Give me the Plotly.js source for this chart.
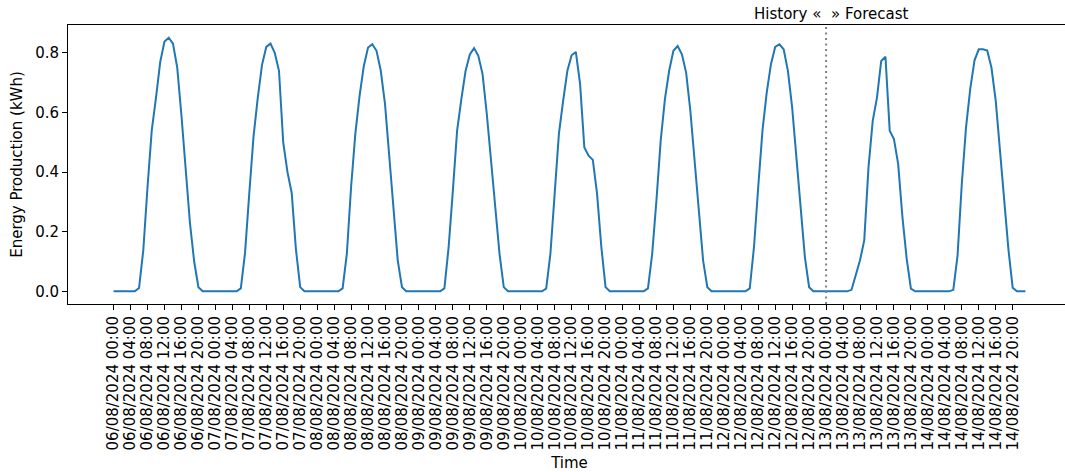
<!DOCTYPE html>
<html>
<head>
<meta charset="utf-8">
<script src="https://cdn.plot.ly/plotly-3.0.1.min.js"></script>
<style>
  html, body { margin: 0; padding: 0; background: #fff; overflow: hidden; }
  #chart { width: 1072px; height: 472px; }
</style>
</head>
<body>
<div id="chart"></div>
<script>
// Hourly energy production (kWh), one array per day, 00:00 .. 23:00
const day0806 = [0,0,0,0,0,0,0.011,0.137,0.35,0.54,0.65,0.77,0.838,0.851,0.831,0.751,0.59,0.40,0.23,0.10,0.014,0,0,0];
const day0807 = [0,0,0,0,0,0,0.01,0.13,0.33,0.52,0.65,0.76,0.82,0.831,0.80,0.74,0.50,0.40,0.33,0.14,0.014,0,0,0];
const day0808 = [0,0,0,0,0,0,0.01,0.126,0.35,0.528,0.656,0.756,0.818,0.829,0.807,0.74,0.628,0.46,0.282,0.104,0.014,0,0,0];
const day0809 = [0,0,0,0,0,0,0.01,0.148,0.338,0.539,0.645,0.74,0.795,0.816,0.79,0.729,0.595,0.44,0.28,0.126,0.014,0,0,0];
const day0810 = [0,0,0,0,0,0,0.009,0.126,0.327,0.528,0.639,0.74,0.792,0.803,0.695,0.483,0.455,0.441,0.327,0.15,0.014,0,0,0];
const day0811 = [0,0,0,0,0,0,0.01,0.126,0.305,0.505,0.645,0.74,0.807,0.823,0.795,0.734,0.605,0.44,0.26,0.104,0.014,0,0,0];
const day0812 = [0,0,0,0,0,0,0.01,0.148,0.35,0.539,0.667,0.762,0.82,0.829,0.812,0.74,0.617,0.44,0.28,0.115,0.014,0,0,0];
const day0813 = [0,0,0,0,0,0,0.005,0.055,0.104,0.171,0.416,0.572,0.65,0.773,0.787,0.539,0.511,0.427,0.25,0.11,0.009,0,0,0];
const day0814 = [0,0,0,0,0,0,0.005,0.12,0.36,0.55,0.68,0.775,0.812,0.812,0.808,0.75,0.64,0.47,0.30,0.14,0.012,0,0,0];

const dayDates = ['2024-08-06','2024-08-07','2024-08-08','2024-08-09','2024-08-10','2024-08-11','2024-08-12','2024-08-13','2024-08-14'];
const dayLabels = ['06/08/2024','07/08/2024','08/08/2024','09/08/2024','10/08/2024','11/08/2024','12/08/2024','13/08/2024','14/08/2024'];
const dayValues = [day0806, day0807, day0808, day0809, day0810, day0811, day0812, day0813, day0814];
const tickHours = ['00','04','08','12','16','20'];
const forecastStart = '2024-08-13 00:00';
const xRange = ['2024-08-05 13:15', '2024-08-15 09:45'];

const hh = h => String(h).padStart(2, '0');
const x = [], y = [];
dayDates.forEach((d, i) => {
  dayValues[i].forEach((v, h) => { x.push(d + ' ' + hh(h) + ':00'); y.push(v); });
});
const tickvals = [], ticktext = [];
dayDates.forEach((d, i) => {
  tickHours.forEach(t => { tickvals.push(d + ' ' + t + ':00'); ticktext.push(dayLabels[i] + ' ' + t + ':00'); });
});

const font = { family: 'DejaVu Sans, sans-serif', size: 15, color: '#000' };

const data = [{
  type: 'scatter', mode: 'lines', x: x, y: y,
  line: { color: '#1f77b4', width: 2 },
  hoverinfo: 'skip', showlegend: false
}];

const layout = {
  width: 1072, height: 472,
  margin: { l: 68, r: 1, t: 25, b: 168 },
  paper_bgcolor: '#fff', plot_bgcolor: '#fff',
  font: font,
  showlegend: false,
  xaxis: {
    type: 'date', range: xRange, automargin: false,
    tickmode: 'array', tickvals: tickvals, ticktext: ticktext, tickangle: -90,
    ticks: 'outside', ticklen: 5, tickwidth: 1, tickcolor: '#000',
    showline: true, linecolor: '#000', linewidth: 1, mirror: true,
    showgrid: false, zeroline: false, tickfont: font,
    title: { text: 'Time', font: font, standoff: 8 }
  },
  yaxis: {
    range: [-0.04255, 0.8936], automargin: false,
    tickmode: 'array', tickvals: [0, 0.2, 0.4, 0.6, 0.8], tickformat: '.1f',
    ticks: 'outside', ticklen: 5, tickwidth: 1, tickcolor: '#000',
    showline: true, linecolor: '#000', linewidth: 1, mirror: true,
    showgrid: false, zeroline: false, tickfont: font,
    title: { text: 'Energy Production (kWh)', font: font, standoff: 8 }
  },
  shapes: [{
    type: 'line', xref: 'x', yref: 'paper', x0: forecastStart, x1: forecastStart, y0: 0, y1: 1,
    line: { color: '#808080', width: 2, dash: '2px,3.5px' }
  }],
  annotations: [
    { xref: 'x', yref: 'paper', x: forecastStart, y: 1, xanchor: 'right', yanchor: 'bottom',
      text: 'History «', showarrow: false, xshift: -3, font: font },
    { xref: 'x', yref: 'paper', x: forecastStart, y: 1, xanchor: 'left', yanchor: 'bottom',
      text: '» Forecast', showarrow: false, xshift: 3, font: font }
  ]
};

Plotly.newPlot('chart', data, layout, { staticPlot: true, displayModeBar: false });
</script>
</body>
</html>
